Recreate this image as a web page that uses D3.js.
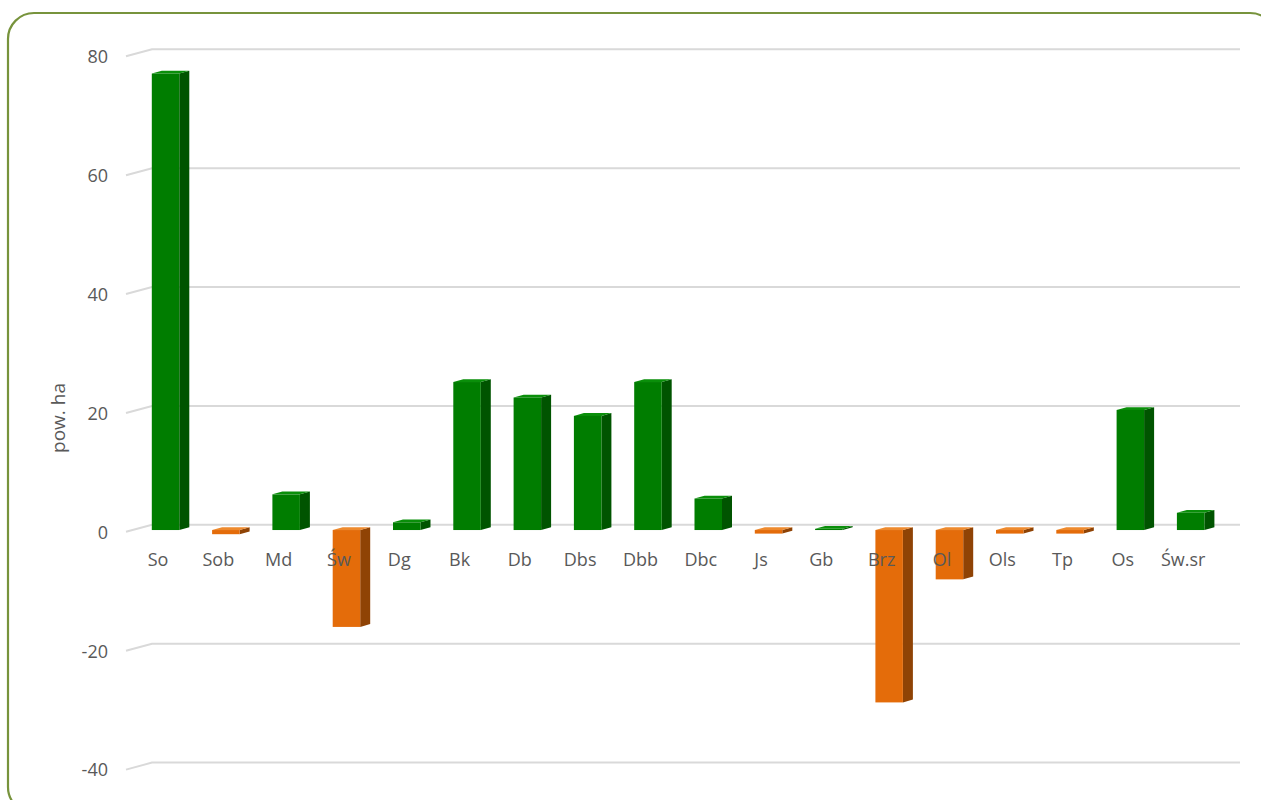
<!DOCTYPE html>
<html>
<head>
<meta charset="utf-8">
<script src="https://cdn.jsdelivr.net/npm/d3@7"></script>
<style>
  html, body { margin: 0; padding: 0; background: #ffffff; }
  svg { display: block; }
  text { font-family: "Open Sans", "Noto Sans", sans-serif; fill: #595959; }
</style>
</head>
<body>
<svg id="chart" width="1261" height="800"></svg>
<script>
// ---- data ----
const categories = ["So", "Sob", "Md", "Św", "Dg", "Bk", "Db", "Dbs", "Dbb", "Dbc", "Js", "Gb", "Brz", "Ol", "Ols", "Tp", "Os", "Św.sr"];
const values = [76.8, -0.7, 6.0, -16.3, 1.3, 24.9, 22.3, 19.2, 24.9, 5.3, -0.6, 0.2, -29.0, -8.3, -0.6, -0.6, 20.2, 2.9];
const yTicks = [-40, -20, 0, 20, 40, 60, 80];
const axisTitle = "pow. ha";

// ---- layout ----
const svg = d3.select("#chart");
const W = 1261, H = 800;

// chart frame
svg.append("rect")
  .attr("x", 8).attr("y", 13)
  .attr("width", 1268).attr("height", 800)
  .attr("rx", 26).attr("ry", 26)
  .attr("fill", "#ffffff")
  .attr("stroke", "#77933C")
  .attr("stroke-width", 2.2);

// bar plane scales
const x = d3.scaleBand().domain(categories).range([135.4, 1220.8]).paddingInner(0).paddingOuter(0);
const y = d3.scaleLinear().domain([-40, 80]).range([767.8, 54.5]);

const depthDx = 10, depthDy = -2.8;          // bar depth
const backDy = -5.2, frontDy = 1.8;          // wall offsets vs bar plane
const backX0 = 152, backX1 = 1240, frontX0 = 126;
const barW = 27.5;

// gridlines (back wall + floor slant)
const grid = svg.append("g");
yTicks.forEach(t => {
  const yb = y(t) + backDy, yf = y(t) + frontDy;
  grid.append("path")
    .attr("d", `M${frontX0},${yf}L${backX0},${yb}L${backX1},${yb}`)
    .attr("fill", "none")
    .attr("stroke", "#d9d9d9")
    .attr("stroke-width", 2);
});

// y tick labels
svg.append("g").selectAll("text").data(yTicks).join("text")
  .attr("x", 108)
  .attr("y", d => y(d) + frontDy + 2)
  .attr("text-anchor", "end")
  .attr("dominant-baseline", "middle")
  .attr("font-size", 18)
  .text(d => d);

// axis title
svg.append("text")
  .attr("transform", "translate(60,418) rotate(-90)")
  .attr("text-anchor", "middle")
  .attr("dominant-baseline", "middle")
  .attr("font-size", 19)
  .text(axisTitle);

// colours
const palette = {
  pos: { front: "#007d00", side: "#005400", top: "#0a8f0a" },
  neg: { front: "#e46c0a", side: "#8f4305", top: "#ee8a2e" }
};

// bars
const bars = svg.append("g");
categories.forEach((c, i) => {
  const v = values[i];
  const col = v >= 0 ? palette.pos : palette.neg;
  const cx = x(c) + x.bandwidth() / 2;
  const x0 = cx - barW / 2, x1 = cx + barW / 2;
  const yTop = Math.min(y(v), y(0));
  const yBot = Math.max(y(v), y(0));
  const g = bars.append("g");
  // side face
  g.append("path")
    .attr("d", `M${x1},${yTop}L${x1 + depthDx},${yTop + depthDy}L${x1 + depthDx},${yBot + depthDy}L${x1},${yBot}Z`)
    .attr("fill", col.side);
  // top face
  g.append("path")
    .attr("d", `M${x0},${yTop}L${x0 + depthDx},${yTop + depthDy}L${x1 + depthDx},${yTop + depthDy}L${x1},${yTop}Z`)
    .attr("fill", col.top);
  // front face
  g.append("rect")
    .attr("x", x0).attr("y", yTop)
    .attr("width", barW).attr("height", Math.max(yBot - yTop, 0.8))
    .attr("fill", col.front);
});

// category labels (drawn on top)
svg.append("g").selectAll("text").data(categories).join("text")
  .attr("x", d => x(d) + x.bandwidth() / 2 - 7.5)
  .attr("y", 561)
  .attr("text-anchor", "middle")
  .attr("dominant-baseline", "middle")
  .attr("font-size", 18)
  .text(d => d);
</script>
</body>
</html>
